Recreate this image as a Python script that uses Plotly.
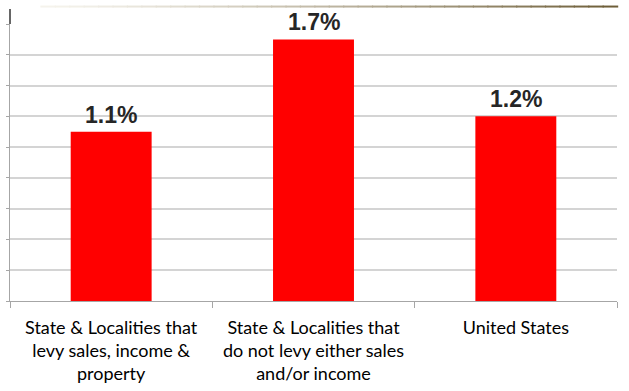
import plotly.graph_objects as go

# Chart data
categories = [
    "State & Localities that<br>levy sales, income &<br>property",
    "State & Localities that<br>do not levy either sales<br>and/or income",
    "United States",
]
values = [1.1, 1.7, 1.2]
y_max = 1.8
y_step = 0.2

fig = go.Figure()

fig.add_trace(go.Bar(
    x=categories,
    y=values,
    marker=dict(color="#ff0000", line=dict(width=0)),
    width=0.4,
    hoverinfo="skip",
))

# Value labels above each bar
for cat, val in zip(categories, values):
    fig.add_annotation(
        x=cat, y=val, xref="x", yref="y",
        text=f"<b>{val:.1f}%</b>",
        showarrow=False, yanchor="bottom", yshift=2,
        font=dict(family="Liberation Sans, Arial, sans-serif", size=23, color="#262626"),
    )

# Thin decorative rule across the top of the slide, fading in from the left
n_seg = 40
x0, x1 = 0.05, 1.0
c_light = (245, 243, 236)
c_dark = (110, 94, 56)
for i in range(n_seg):
    t = i / (n_seg - 1)
    col = tuple(int(round(a + (b - a) * t ** 1.3)) for a, b in zip(c_light, c_dark))
    fig.add_shape(
        type="line", xref="paper", yref="paper",
        x0=x0 + (x1 - x0) * i / n_seg, x1=x0 + (x1 - x0) * (i + 1) / n_seg + 0.002,
        y0=1.063, y1=1.063,
        line=dict(color="rgb(%d,%d,%d)" % col, width=2),
    )

# Short dark stub of the value axis above the top gridline
fig.add_shape(
    type="line", xref="paper", yref="paper",
    x0=0, x1=0, y0=1.0, y1=1.054,
    line=dict(color="#333333", width=1.5),
)

fig.update_layout(
    width=629, height=391,
    margin=dict(l=7, r=12, t=24, b=88),
    paper_bgcolor="white",
    plot_bgcolor="white",
    showlegend=False,
    bargap=0.6,
    xaxis=dict(
        type="category",
        showgrid=False,
        showline=True, linecolor="#a6a6a6", linewidth=1,
        ticks="outside", tickson="boundaries", ticklen=6, tickcolor="#a6a6a6",
        ticklabelstandoff=10,
        tickfont=dict(family="Lato, Carlito, Calibri, sans-serif", size=18, color="#000000"),
        fixedrange=True,
    ),
    yaxis=dict(
        range=[0, y_max],
        dtick=y_step, tick0=0,
        showticklabels=False,
        showgrid=True, gridcolor="#d4d4d4", gridwidth=1.5,
        showline=True, linecolor="#a6a6a6", linewidth=1,
        ticks="outside", ticklen=3, tickcolor="#a6a6a6",
        zeroline=False,
        fixedrange=True,
    ),
)

fig.write_html("out.html")
